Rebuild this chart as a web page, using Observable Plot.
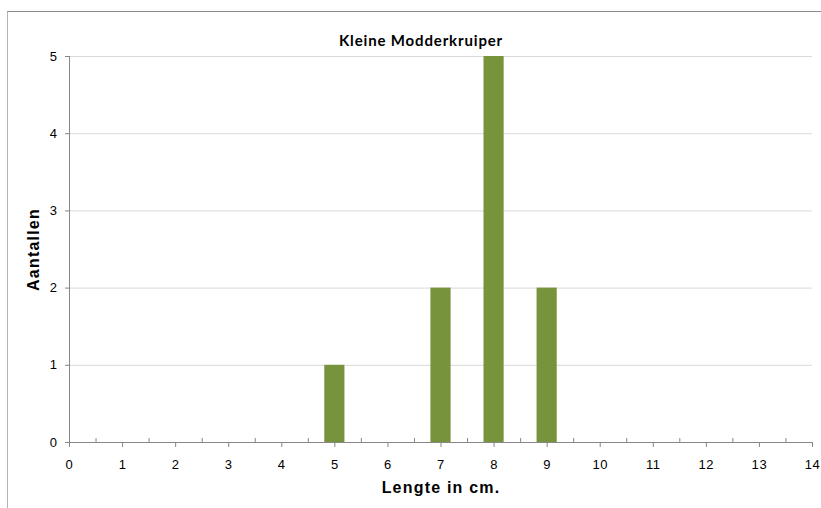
<!DOCTYPE html>
<html>
<head>
<meta charset="utf-8">
<script src="https://cdn.jsdelivr.net/npm/d3@7"></script>
<script src="https://cdn.jsdelivr.net/npm/@observablehq/plot@0.6"></script>
<style>
  html, body { margin: 0; padding: 0; background: #fff; overflow: hidden; }
  #chart { position: relative; width: 821px; height: 508px; }
  #border {
    position: absolute; left: 7px; top: 11px; width: 900px; height: 600px;
    border-left: 1px solid #b3b3b3; border-top: 1px solid #8a8a8a;
  }
  #chart svg { position: absolute; left: 0; top: 0; }
  #chart g[aria-label$="tick label"] text { letter-spacing: 0.6px; }
</style>
</head>
<body>
<div id="chart"><div id="border"></div></div>
<script>
// Lengteverdeling kleine modderkruiper
const title = "Kleine Modderkruiper";
const xLabel = "Lengte in cm.";
const yLabel = "Aantallen";

const lengths = [5, 7, 8, 9];   // lengte (cm)
const counts = [1, 2, 5, 2];    // aantal vissen

const xTicks = d3.range(0, 15);           // 0 … 14
const xMinorTicks = d3.range(0.5, 14, 1); // tussenstreepjes
const yTicks = d3.range(0, 6);            // 0 … 5

const barHalfWidth = 0.19;
const data = lengths.map((length, i) => ({length, count: counts[i]}));

const axisColor = "#868686";
const boldText = {fontWeight: "bold", fontSize: 16, fill: "#000", textAnchor: "middle"};

const chart = Plot.plot({
  width: 821,
  height: 508,
  marginLeft: 69,
  marginRight: 9,
  marginTop: 56,
  marginBottom: 66,
  x: {domain: [0, 14]},
  y: {domain: [0, 5]},
  style: {fontFamily: "'Liberation Sans', Arial, sans-serif", fontSize: "13px", color: "#000", background: "transparent"},
  marks: [
    Plot.gridY(yTicks.slice(1), {stroke: "#d9d9d9", strokeOpacity: 1}),
    Plot.rectY(data, {
      x1: d => d.length - barHalfWidth,
      x2: d => d.length + barHalfWidth,
      y: "count",
      fill: "#77933C"
    }),
    Plot.ruleX([0], {stroke: axisColor}),
    Plot.ruleY([0], {stroke: axisColor}),
    Plot.axisY({ticks: yTicks, tickSize: 4, tickPadding: 8, stroke: axisColor, label: null, tickFormat: d3.format("d"), fontSize: 13}),
    Plot.axisX({ticks: xTicks, tickSize: 5, tickPadding: 12, stroke: axisColor, label: null, tickFormat: d3.format("d"), fontSize: 13}),
    Plot.axisX({ticks: xMinorTicks, tickSize: -4, text: null, stroke: axisColor, label: null}),
    Plot.text([xLabel], {frameAnchor: "bottom", dy: 50, ...boldText}),
    Plot.text([yLabel], {frameAnchor: "left", dx: -36, rotate: -90, ...boldText}),
    Plot.text([title], {
      frameAnchor: "top", dx: -20, dy: -21,
      fontFamily: "Lato, 'Open Sans', sans-serif", fontWeight: "bold", fontSize: 15, fill: "#000"
    })
  ]
});

// wat ruimere letterafstand voor de titels
const spacing = new Map([[xLabel, "1.2px"], [yLabel, "1.2px"], [title, "0.85px"]]);
d3.select(chart).selectAll("text")
  .filter(function() { return spacing.has(this.textContent); })
  .attr("letter-spacing", function() { return spacing.get(this.textContent); });

document.getElementById("chart").appendChild(chart);
</script>
</body>
</html>
